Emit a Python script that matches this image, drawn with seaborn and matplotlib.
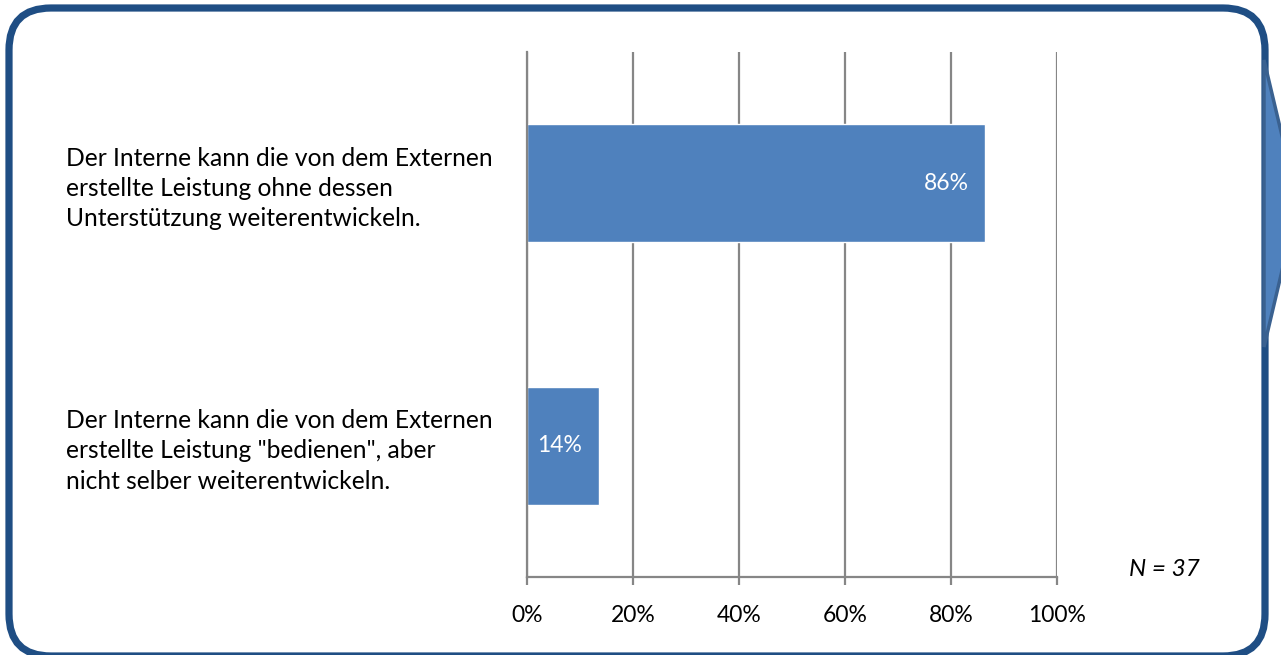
import matplotlib
matplotlib.use("Agg")
import matplotlib.pyplot as plt
from matplotlib.patches import FancyBboxPatch, Polygon
import matplotlib.transforms as mtransforms
import seaborn as sns
import pandas as pd

# Survey answers and respondent counts
categories = [
    "Der Interne kann die von dem Externen\nerstellte Leistung ohne dessen\nUnterstützung weiterentwickeln.",
    "Der Interne kann die von dem Externen\nerstellte Leistung \"bedienen\", aber\nnicht selber weiterentwickeln.",
]
counts = [32, 5]
n_total = 37
x_ticks = [0, 20, 40, 60, 80, 100]
x_tick_labels = ["0%", "20%", "40%", "60%", "80%", "100%"]

shares = [c / n_total * 100 for c in counts]
df = pd.DataFrame({"Antwort": categories, "Anteil": shares})

sns.set_theme(style="white")
plt.rcParams["font.family"] = ["Lato", "DejaVu Sans"]

W, H = 1281, 655
fig = plt.figure(figsize=(W / 100, H / 100), dpi=100)
fig.patch.set_facecolor("white")

ax = fig.add_axes([527 / W, (H - 577) / H, (1057 - 527) / W, (577 - 52) / H])

BAR = "#4F81BD"
GRID = "#868686"

sns.barplot(data=df, x="Anteil", y="Antwort", orient="h", color=BAR,
            saturation=1, width=0.45, ax=ax)

ax.set_xlim(0, 100)
ax.set_ylim(1.5, -0.5)
ax.set_xticks(x_ticks)
ax.set_xticklabels(x_tick_labels, fontsize=16.5, color="#000000")
ax.set_yticks([])
ax.set_xlabel("")
ax.set_ylabel("")

ax.xaxis.grid(True, color=GRID, linewidth=1.6)
ax.set_axisbelow(True)
for side in ["top", "right"]:
    ax.spines[side].set_visible(False)
for side in ["left", "bottom"]:
    ax.spines[side].set_color(GRID)
    ax.spines[side].set_linewidth(1.6)
ax.tick_params(axis="x", which="both", bottom=True, length=6, width=1.6,
               color=GRID, pad=14)

# category texts, left-aligned in the margin
trans = mtransforms.blended_transform_factory(fig.transFigure, ax.transData)
for i, lab in enumerate(categories):
    ax.text(66 / W, i + 0.02, lab, transform=trans, ha="left", va="center",
            fontsize=17.7, linespacing=1.37, color="#000000")

# value labels inside the bar ends
for i, v in enumerate(shares):
    ax.annotate(f"{v:.0f}%", xy=(v, i), xytext=(-12, 0), textcoords="offset points",
                ha="right", va="center", fontsize=16.5, color="white")

fig.text(1200 / W, (H - 570) / H, f"N = {n_total}", ha="right", va="center",
         fontsize=17.5, style="italic", color="#000000")

# rounded frame around the chart (display pixels, origin bottom-left)
frame = FancyBboxPatch((9, -1), 1265 - 9, 648,
                       boxstyle="round,pad=0,rounding_size=42",
                       transform=None, facecolor="none", edgecolor="#1F4E84",
                       linewidth=5.2, zorder=5)
fig.patches.append(frame)

# arrow wedge attached to the right edge
wedge = Polygon([(1264, H - 60), (1298, H - 203), (1264, H - 347)], closed=True,
                transform=None, facecolor="#4F81BD", edgecolor="#3A6190",
                linewidth=2.5, zorder=6)
fig.patches.append(wedge)

fig.savefig("out.png", dpi=100, facecolor="white")
